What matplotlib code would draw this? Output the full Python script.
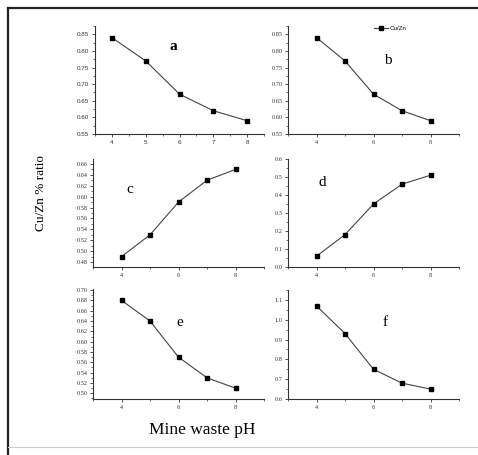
import matplotlib.pyplot as plt
from matplotlib.ticker import MultipleLocator, FormatStrFormatter
from matplotlib.lines import Line2D

# Cu/Zn ratio against mine waste pH, six sampling sites
ph = [4, 5, 6, 7, 8]
ratio_a = [0.84, 0.77, 0.67, 0.62, 0.59]
ratio_b = [0.84, 0.77, 0.67, 0.62, 0.59]
ratio_c = [0.49, 0.53, 0.59, 0.63, 0.65]
ratio_d = [0.06, 0.18, 0.35, 0.46, 0.51]
ratio_e = [0.68, 0.64, 0.57, 0.53, 0.51]
ratio_f = [1.07, 0.93, 0.75, 0.68, 0.65]
labels = ['a', 'b', 'c', 'd', 'e', 'f']

W, H = 478, 455
fig = plt.figure(figsize=(W / 100, H / 100), dpi=100)

def box(l, r, t, b):
    return [l / W, 1 - b / H, (r - l) / W, (b - t) / H]

# frame lines
fig.add_artist(Line2D([8 / W, 8 / W], [0, 1 - 8 / H], color='#222222', lw=1.6))
fig.add_artist(Line2D([8 / W, 1], [1 - 8 / H, 1 - 8 / H], color='#222222', lw=1.6))
fig.add_artist(Line2D([8 / W, 1], [1 - 447 / H, 1 - 447 / H], color='#cccccc', lw=0.8))

panels = [
    (ratio_a, box(95, 264, 26, 134), (3.5, 8.5), (0.55, 0.875), 0.05, 0.025, '%.2f', 1, 0.5, (173, 46)),
    (ratio_b, box(288, 459, 26, 134), (3, 9), (0.55, 0.875), 0.05, 0.025, '%.2f', 2, 1, (388, 61)),
    (ratio_c, box(93, 264, 159, 267), (3, 9), (0.471, 0.669), 0.02, 0.01, '%.2f', 2, 1, (130, 189)),
    (ratio_d, box(288, 459, 159, 267), (3, 9), (0.0, 0.6), 0.1, 0.05, '%.1f', 2, 1, (322, 183)),
    (ratio_e, box(93, 264, 289, 399), (3, 9), (0.489, 0.702), 0.02, 0.01, '%.2f', 2, 1, (180, 322)),
    (ratio_f, box(288, 459, 290, 399), (3, 9), (0.6, 1.15), 0.1, 0.05, '%.1f', 2, 1, (385, 323)),
]

for i, (vals, pos, xl, yl, ymaj, ymin, fmt, xmaj, xmin, lab) in enumerate(panels):
    ax = fig.add_axes(pos)
    ax.plot(ph, vals, color='#444444', lw=0.8, marker='s', ms=3.2,
            mfc='black', mec='black')
    ax.set_xlim(xl)
    ax.set_ylim(yl)
    ax.spines['top'].set_visible(False)
    ax.spines['right'].set_visible(False)
    for s in ('left', 'bottom'):
        ax.spines[s].set_linewidth(0.8)
        ax.spines[s].set_color('#333333')
    ax.xaxis.set_major_locator(MultipleLocator(xmaj))
    ax.xaxis.set_minor_locator(MultipleLocator(xmin))
    ax.yaxis.set_major_locator(MultipleLocator(ymaj))
    ax.yaxis.set_minor_locator(MultipleLocator(ymin))
    ax.yaxis.set_major_formatter(FormatStrFormatter(fmt))
    ax.tick_params(which='major', direction='out', length=2.5, width=0.6,
                   labelsize=4.5, pad=1.5, colors='#333333')
    ax.tick_params(which='minor', direction='out', length=1.5, width=0.5,
                   colors='#333333')
    tick_font = 'Liberation Sans' if i == 0 else 'Liberation Serif'
    for t in ax.get_xticklabels() + ax.get_yticklabels():
        t.set_fontfamily(tick_font)
    fig.text(lab[0] / W, 1 - lab[1] / H, labels[i], fontsize=11,
             family='Liberation Serif', ha='center', va='center',
             weight='bold' if i == 0 else 'normal')
    if i == 1:
        ax.plot([], [], color='#444444', lw=0.8, marker='s', ms=3.2,
                mfc='black', mec='black', label='Cu/Zn')
        ax.legend(loc='upper left', bbox_to_anchor=((371 - 288) / 171, 1.035),
                  frameon=False, fontsize=4.5, handlelength=2.2,
                  handletextpad=0.3, borderpad=0,
                  prop={'family': 'Liberation Sans', 'size': 4.5})

fig.text(41 / W, 1 - 193 / H, 'Cu/Zn % ratio', rotation=90, fontsize=9.5,
         family='Liberation Serif', ha='center', va='center')
fig.text(202 / W, 1 - 430 / H, 'Mine waste pH', fontsize=12.5,
         family='Liberation Serif', ha='center', va='center')

fig.savefig('out.png', dpi=100)
